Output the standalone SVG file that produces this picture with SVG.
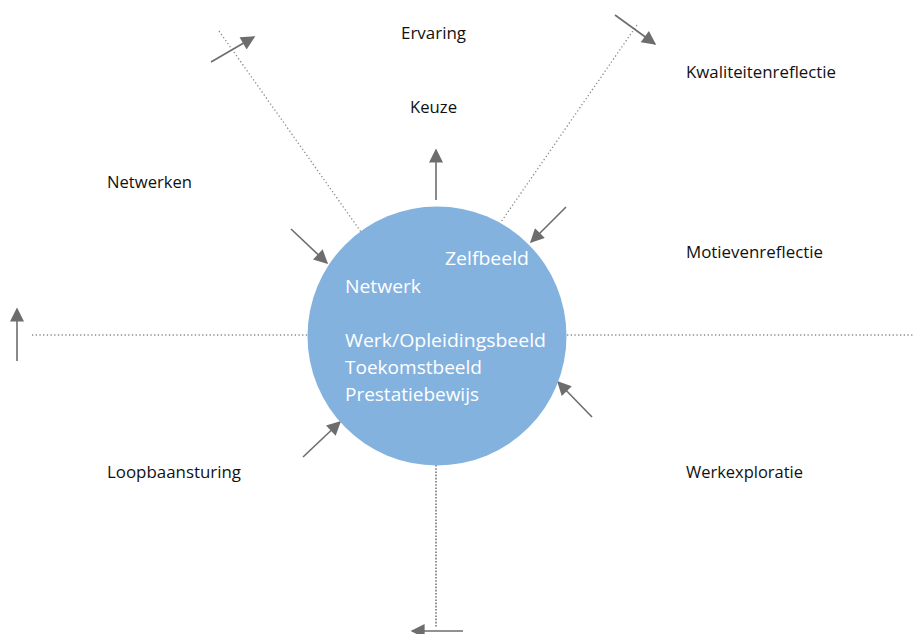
<svg xmlns="http://www.w3.org/2000/svg" width="915" height="634" viewBox="0 0 915 634">
<style>
.lbl{font-family:"Open Sans","Liberation Sans",sans-serif;font-size:16px;fill:#111111}
.in{font-family:"Open Sans","Liberation Sans",sans-serif;font-size:19px;fill:#ffffff}
.dot{stroke:#8a8a8a;stroke-width:1.3;stroke-dasharray:1.3 2.4;fill:none}
.vdot{stroke:#777777;stroke-width:1.6;stroke-dasharray:1.6 1.6;fill:none}
.arr{stroke:#6d6d6d;stroke-width:1.6;fill:none;marker-end:url(#ah)}
</style>
<defs>
<marker id="ah" viewBox="0 0 10 10" refX="9" refY="5" markerWidth="17" markerHeight="14" markerUnits="userSpaceOnUse" orient="auto">
<path d="M0,0 L10,5 L0,10 z" fill="#6d6d6d"/>
</marker>
</defs>
<rect width="915" height="634" fill="#ffffff"/>
<g id="connectors">
<line class="dot" x1="32" y1="335" x2="307" y2="335"/>
<line class="dot" x1="567" y1="335" x2="913" y2="335"/>
<line class="dot" x1="219" y1="31" x2="361" y2="232"/>
<line class="dot" x1="637" y1="25" x2="501" y2="222"/>
<line class="vdot" x1="436" y1="465" x2="436" y2="628"/>
<line class="arr" x1="211" y1="62" x2="254" y2="37"/>
<line class="arr" x1="615" y1="15" x2="655" y2="44"/>
<line class="arr" x1="436" y1="200" x2="436" y2="150"/>
<line class="arr" x1="566" y1="207" x2="531" y2="242"/>
<line class="arr" x1="291" y1="229" x2="327" y2="263"/>
<line class="arr" x1="592" y1="417" x2="558" y2="382"/>
<line class="arr" x1="303" y1="457" x2="340" y2="422"/>
<line class="arr" x1="17" y1="361" x2="17" y2="309"/>
<line class="arr" x1="463" y1="631" x2="412" y2="631"/>
</g>
<g id="center">
<circle cx="437" cy="336" r="129.5" fill="#84b2df"/>
<text class="in" x="445" y="265" textLength="84" lengthAdjust="spacingAndGlyphs">Zelfbeeld</text>
<text class="in" x="345" y="293" textLength="76" lengthAdjust="spacingAndGlyphs">Netwerk</text>
<text class="in" x="345" y="347" textLength="201" lengthAdjust="spacingAndGlyphs">Werk/Opleidingsbeeld</text>
<text class="in" x="345" y="374" textLength="137" lengthAdjust="spacingAndGlyphs">Toekomstbeeld</text>
<text class="in" x="345" y="401" textLength="134" lengthAdjust="spacingAndGlyphs">Prestatiebewijs</text>
</g>
<g id="ervaring"><text class="lbl" x="401" y="39" textLength="65" lengthAdjust="spacingAndGlyphs">Ervaring</text></g>
<g id="keuze"><text class="lbl" x="410" y="113" textLength="47" lengthAdjust="spacingAndGlyphs">Keuze</text></g>
<g id="kwaliteitenreflectie"><text class="lbl" x="686" y="78" textLength="150" lengthAdjust="spacingAndGlyphs">Kwaliteitenreflectie</text></g>
<g id="netwerken"><text class="lbl" x="107" y="188" textLength="85" lengthAdjust="spacingAndGlyphs">Netwerken</text></g>
<g id="motievenreflectie"><text class="lbl" x="686" y="258" textLength="137" lengthAdjust="spacingAndGlyphs">Motievenreflectie</text></g>
<g id="loopbaansturing"><text class="lbl" x="107" y="478" textLength="134" lengthAdjust="spacingAndGlyphs">Loopbaansturing</text></g>
<g id="werkexploratie"><text class="lbl" x="686" y="478" textLength="117" lengthAdjust="spacingAndGlyphs">Werkexploratie</text></g>
</svg>
